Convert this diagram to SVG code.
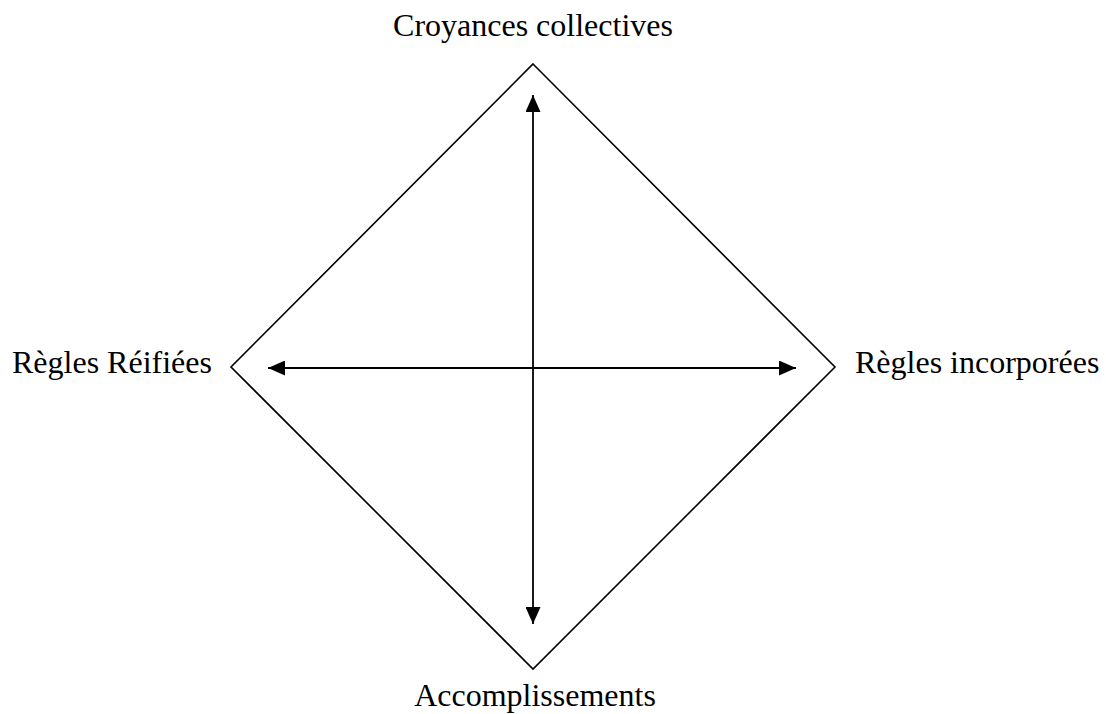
<svg xmlns="http://www.w3.org/2000/svg" width="1106" height="714" viewBox="0 0 1106 714">
  <style>
    .lbl { font-family: "Liberation Serif", "Times New Roman", serif; font-size: 32px; fill: #000; }
    .frame { fill: none; stroke: #000; stroke-width: 1.6; }
    .axis { fill: none; stroke: #000; stroke-width: 1.8; marker-start: url(#head); marker-end: url(#head); }
  </style>
  <defs>
    <marker id="head" viewBox="0 0 17 15" refX="17" refY="7.5" markerWidth="17" markerHeight="15" markerUnits="userSpaceOnUse" orient="auto-start-reverse">
      <path d="M0,0 L17,7.5 L0,15 Z" fill="#000"/>
    </marker>
  </defs>

  <!-- outer diamond -->
  <g id="frame">
    <polygon class="frame" points="533,64 835,367 533,669 231,367"/>
  </g>

  <!-- double-headed axes -->
  <g id="connectors">
    <line class="axis" x1="533" y1="95" x2="533" y2="624"/>
    <line class="axis" x1="268" y1="368" x2="796" y2="368"/>
  </g>

  <g id="top-node">
    <text class="lbl" x="533" y="36" text-anchor="middle">Croyances collectives</text>
  </g>
  <g id="bottom-node">
    <text class="lbl" x="535" y="706" text-anchor="middle">Accomplissements</text>
  </g>
  <g id="left-node">
    <text class="lbl" x="12" y="373">Règles Réifiées</text>
  </g>
  <g id="right-node">
    <text class="lbl" x="855" y="373">Règles incorporées</text>
  </g>
</svg>
